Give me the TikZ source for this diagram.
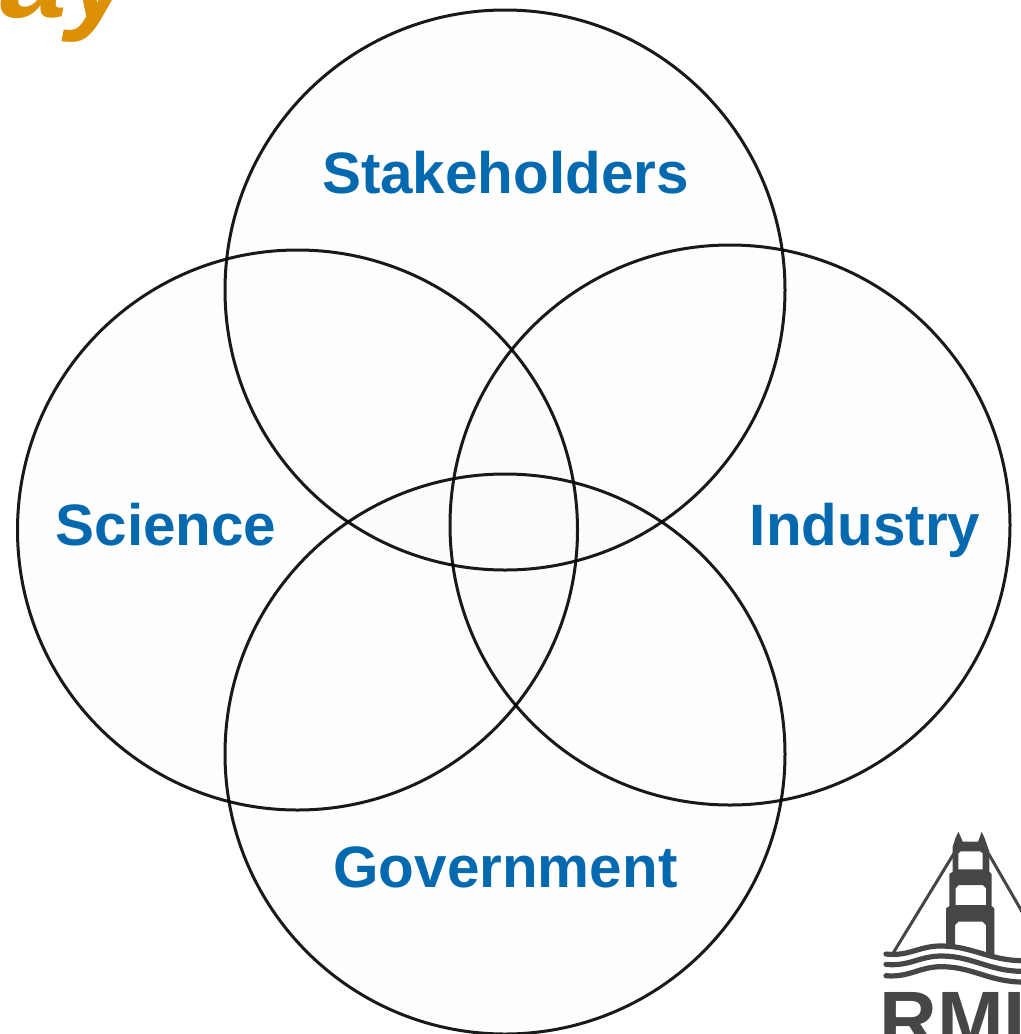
\documentclass[tikz,border=0pt]{standalone}
\usepackage{fontspec}
\setmainfont{Liberation Sans}
\definecolor{labelblue}{HTML}{0569B0}
\definecolor{titleorange}{HTML}{DC9005}
\definecolor{logogray}{HTML}{464646}
\begin{document}
\begin{tikzpicture}[x=0.5pt,y=-0.5pt]

\tikzset{ring/.style = {shape=circle,draw=black,line width=1.5pt,minimum size=280pt,inner sep=0pt,outer sep=0pt,fill=black,fill opacity=0.004,draw opacity=0.9}}
\tikzset{label/.style = {anchor=base,text=labelblue,font=\fontsize{29.2}{30}\selectfont\bfseries}}
\tikzset{logotext/.style = {anchor=base west,text=logogray,font=\fontsize{40}{42}\selectfont\bfseries,inner sep=0pt}}
\tikzset{wave/.style = {draw=logogray,line width=2.6pt,line cap=round}}

\useasboundingbox (0,0) rectangle (1021,1034);

%title
\node[xslant=0.2,transform shape,anchor=base east,inner sep=0pt,text=titleorange,font=\fontsize{60}{62}\selectfont\bfseries] (title) at (128,17) {ay};

%circles
\node[ring] (stakeholders) at (505,290) {};
\node[ring] (science) at (297.5,530) {};
\node[ring] (industry) at (730,525) {};
\node[ring] (government) at (505,754) {};

%labels
\node[label] (l1) at (505.5,193) {Stakeholders};
\node[label] (l2) at (166,545) {Science};
\node[label] (l3) at (865,545) {Industry};
\node[label] (l4) at (505.5,887) {Government};

%logo
\begin{scope}[shift={(860,810)},x=0.1667pt,y=-0.1667pt]
\fill[logogray,even odd rule]
  (258,408) -- (258,295) -- (268,288) -- (268,192) -- (278,185) -- (278,110) -- (286,85) -- (295,65)
  -- (304,85) -- (308,95) -- (354,95) -- (358,85) -- (365,65) -- (374,85) -- (388,125) -- (388,185)
  -- (395,192) -- (395,288) -- (403,295) -- (403,438) -- (378,432) -- (330,416) -- (285,408) -- cycle
  (295,178) -- (295,130) -- (302,124) -- (361,124) -- (368,130) -- (368,178) -- cycle
  (287,285) -- (287,235) -- (296,225) -- (369,225) -- (378,235) -- (378,285) -- cycle
  (285,408) -- (285,345) -- (295,335) -- (368,335) -- (378,345) -- (378,432) -- (330,416) -- cycle;
\draw[logogray,line width=1.5pt] (282,130) -- (100,428);
\draw[logogray,line width=1.5pt] (385,130) -- (490,312);
\draw[wave] (78,432) .. controls (150,440) and (180,405) .. (250,408) .. controls (340,410) and (390,452) .. (490,452);
\draw[wave] (78,463) .. controls (150,470) and (180,436) .. (250,438) .. controls (340,440) and (390,484) .. (490,484);
\draw[wave] (78,497) .. controls (150,503) and (180,468) .. (250,470) .. controls (340,472) and (390,516) .. (490,516);
\end{scope}
\node[logotext] (rmi) at (879,1047) {RMI};

\end{tikzpicture}
\end{document}
